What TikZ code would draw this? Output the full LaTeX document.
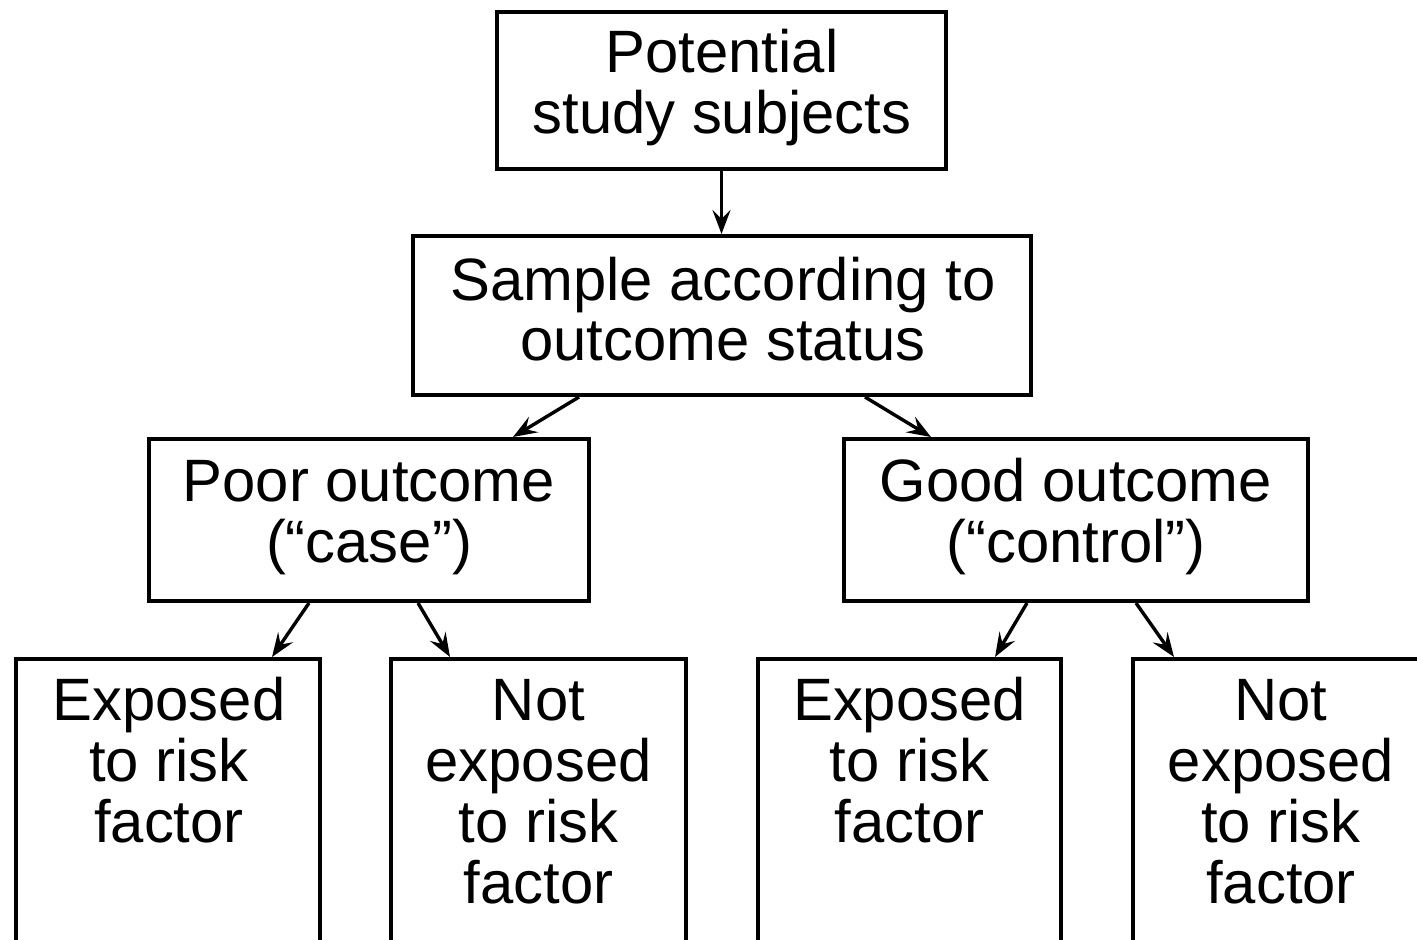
\documentclass[tikz,border=0pt]{standalone}
\usepackage{fontspec}
\setmainfont{Liberation Sans}
\usetikzlibrary{arrows.meta}
\begin{document}
\begin{tikzpicture}[x=0.5pt,y=-0.5pt,
  box/.style={draw=black,line width=2pt,rectangle,inner sep=0pt},
  lbl/.style={anchor=base,inner sep=0pt,font=\fontsize{29.9pt}{30pt}\selectfont},
  arr/.style={line width=1.7pt,-{Stealth[length=12pt,width=9pt,inset=4.5pt]}}]
\clip (0,0) rectangle (1417,939);
\fill[white] (0,0) rectangle (1417,939);
% boxes
\node[box,minimum width=224.5pt,minimum height=78.5pt] (top) at (721.5,90.5) {};
\node[box,minimum width=309pt,minimum height=79.5pt] (sample) at (722,315.5) {};
\node[box,minimum width=220pt,minimum height=81pt] (poor) at (369,520) {};
\node[box,minimum width=232pt,minimum height=81pt] (good) at (1076,520) {};
\node[box,minimum width=152pt,minimum height=170.5pt] (ll) at (168,829.5) {};
\node[box,minimum width=147.5pt,minimum height=170.5pt] (lr) at (538.5,829.5) {};
\node[box,minimum width=151.5pt,minimum height=170.5pt] (rl) at (909.5,829.5) {};
\node[box,minimum width=148.5pt,minimum height=170.5pt] (rr) at (1281.5,829.5) {};
% labels
\newcommand{\lines}[1]{\renewcommand{\arraystretch}{1}\setlength{\tabcolsep}{0pt}\begin{tabular}[t]{c}#1\end{tabular}}
\node[lbl] (ttop) at (722,72) {\lines{Potential\\study subjects}};
\node[lbl] (tsample) at (723,300) {\lines{Sample according to\\outcome status}};
\node[lbl] (tpoor) at (369,501) {\lines{Poor outcome\\(“case”)}};
\node[lbl] (tgood) at (1076,501) {\lines{Good outcome\\(“control”)}};
\node[lbl] (tll) at (169,720) {\lines{Exposed\\to risk\\factor}};
\node[lbl] (tlr) at (538.5,720) {\lines{Not\\exposed\\to risk\\factor}};
\node[lbl] (trl) at (909.5,720) {\lines{Exposed\\to risk\\factor}};
\node[lbl] (trr) at (1281,720) {\lines{Not\\exposed\\to risk\\factor}};
% connectors
\draw[arr] (top.south) -- (top.south |- sample.north);
\draw[arr] ([xshift=-71.5pt]sample.south) -- ([xshift=72pt]poor.north);
\draw[arr] ([xshift=71.5pt]sample.south) -- ([xshift=-72.5pt]good.north);
\draw[arr] ([xshift=-30pt]poor.south) -- ([xshift=52pt]ll.north);
\draw[arr] ([xshift=24.5pt]poor.south) -- ([xshift=-44.25pt]lr.north);
\draw[arr] ([xshift=-24.5pt]good.south) -- ([xshift=42.75pt]rl.north);
\draw[arr] ([xshift=30pt]good.south) -- ([xshift=-53.75pt]rr.north);
\end{tikzpicture}
\end{document}
